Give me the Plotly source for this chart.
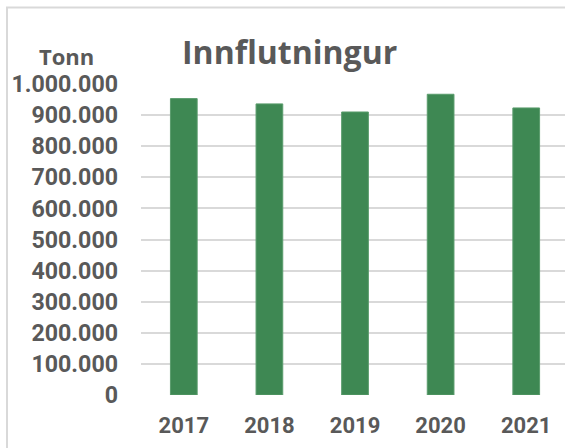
import plotly.graph_objects as go

# Data
YEARS = ["2017", "2018", "2019", "2020", "2021"]
TONNES = [953000, 936000, 910000, 967000, 923000]

BAR_COLOR = "#3e8853"
TEXT_COLOR = "#595959"
GRID_COLOR = "#d9d9d9"
FONT = "Roboto, Arial, sans-serif"
TITLE_FONT = "Open Sans, Arial, sans-serif"

W, H = 565, 448
ML, MR, MT, MB = 141, 0, 84, 53
plot_w = W - ML - MR
plot_h = H - MT - MB


def px_to_paper_x(px):
    return (px - ML) / plot_w


def px_to_paper_y(py):
    return (H - MB - py) / plot_h


fig = go.Figure()

fig.add_trace(
    go.Bar(
        x=list(range(len(YEARS))),
        y=TONNES,
        width=0.312,
        marker=dict(color=BAR_COLOR, line=dict(color="#5a9c6c", width=1)),
        hovertemplate="%{y:,d} tonn<extra></extra>",
    )
)

# Outer chart frame (only its top and left edges fall inside the window)
fig.add_shape(
    type="rect",
    xref="paper", yref="paper",
    x0=px_to_paper_x(7), x1=1.2,
    y0=-0.5, y1=px_to_paper_y(7.5),
    line=dict(color=GRID_COLOR, width=2),
    fillcolor="rgba(0,0,0,0)",
    layer="below",
)

fig.add_annotation(
    text="<b>Innflutningur</b>",
    xref="paper", yref="paper",
    x=px_to_paper_x(180), y=px_to_paper_y(52),
    xanchor="left", yanchor="middle",
    showarrow=False,
    font=dict(family=TITLE_FONT, size=32, color=TEXT_COLOR),
)
fig.add_annotation(
    text="<b>Tonn</b>",
    xref="paper", yref="paper",
    x=px_to_paper_x(66), y=px_to_paper_y(56),
    xanchor="center", yanchor="middle",
    showarrow=False,
    font=dict(family=TITLE_FONT, size=22, color=TEXT_COLOR),
)

fig.update_layout(
    width=W, height=H,
    margin=dict(l=ML, r=MR, t=MT, b=MB),
    plot_bgcolor="white",
    paper_bgcolor="white",
    separators=",.",
    showlegend=False,
    font=dict(family=FONT, color=TEXT_COLOR),
)
fig.update_yaxes(
    range=[0, 1000000],
    dtick=100000,
    tickformat=",d",
    gridcolor=GRID_COLOR,
    gridwidth=2,
    zeroline=False,
    showline=False,
    ticklabelstandoff=22,
    tickfont=dict(family=FONT, size=23.2, color=TEXT_COLOR, weight="bold"),
)
fig.update_xaxes(
    range=[-0.5, 4.453],
    tickmode="array",
    tickvals=list(range(len(YEARS))),
    ticktext=YEARS,
    showgrid=False,
    zeroline=False,
    showline=False,
    ticklabelstandoff=15,
    tickfont=dict(family=FONT, size=22, color=TEXT_COLOR, weight="bold"),
)

fig.write_html(
    "out.html",
    config={"displayModeBar": False},
    post_script="document.body.style.margin='0';document.body.style.overflow='hidden';",
)
